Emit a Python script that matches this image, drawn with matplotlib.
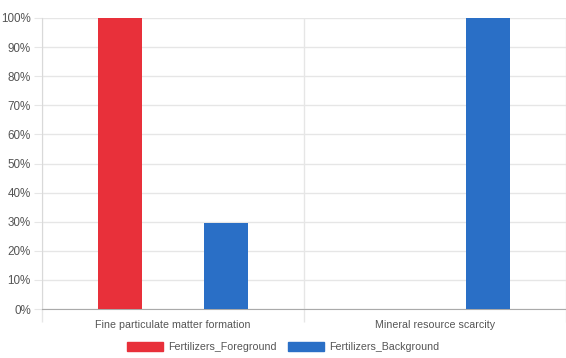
import matplotlib
matplotlib.use("Agg")
import matplotlib.pyplot as plt
from matplotlib.patches import Patch
from matplotlib.ticker import FuncFormatter, MultipleLocator
import numpy as np

plt.rcParams["font.family"] = ["Liberation Sans", "DejaVu Sans"]

categories = ["Fine particulate matter formation", "Mineral resource scarcity"]
foreground = [100, 0]
background = [29.6, 100]
series_names = ["Fertilizers_Foreground", "Fertilizers_Background"]
series_colors = ["#E8303A", "#2A6FC6"]

W, H = 566, 358
fig = plt.figure(figsize=(W / 100, H / 100), dpi=100)
ax = fig.add_axes([42 / W, (H - 309) / H, (566 - 42) / W, (309 - 18) / H])

x = np.arange(len(categories))
bar_w = 0.168
offset = 0.203
ax.bar(x - offset, foreground, bar_w, color=series_colors[0], zorder=3)
ax.bar(x + offset, background, bar_w, color=series_colors[1], zorder=3)

ax.set_xlim(-0.5, len(categories) - 0.5)
ax.set_ylim(0, 100)
ax.yaxis.set_major_locator(MultipleLocator(10))
ax.yaxis.set_major_formatter(FuncFormatter(lambda v, _: f"{v:.0f}%"))

# category separators drawn as vertical grid lines
ax.set_xticks(x)
ax.set_xticklabels(categories)
ax.set_xticks(np.arange(-0.5, len(categories)), minor=True)
ax.grid(axis="y", color="#e6e6e6", linewidth=1, zorder=0)
ax.grid(axis="x", which="minor", color="#e6e6e6", linewidth=1, zorder=0)

ax.tick_params(axis="x", which="major", length=0, pad=8, labelsize=7.7, labelcolor="#555555")
ax.tick_params(axis="x", which="minor", length=9, color="#e6e6e6", width=1)
ax.tick_params(axis="y", length=6, color="#e6e6e6", labelsize=8.4, labelcolor="#555555", pad=2)

for side in ["top", "right"]:
    ax.spines[side].set_visible(False)
ax.spines["left"].set_color("#d9d9d9")
ax.spines["bottom"].set_color("#aaaaaa")

handles = [Patch(facecolor=c, edgecolor=c) for c in series_colors]
fig.legend(handles, series_names, loc="center", bbox_to_anchor=(0.5, (H - 347) / H),
           ncol=2, frameon=False, fontsize=7.7, handlelength=3.4, handleheight=1.0,
           handletextpad=0.5, columnspacing=1.0, labelcolor="#555555")

fig.savefig("out.png", dpi=100)
